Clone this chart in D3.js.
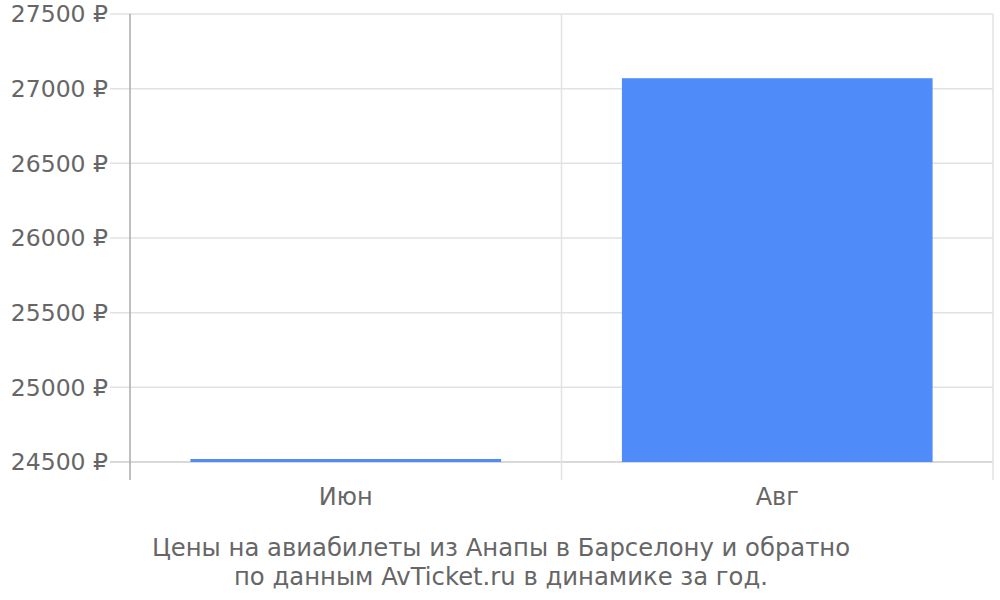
<!DOCTYPE html>
<html>
<head>
<meta charset="utf-8">
<script src="https://cdn.jsdelivr.net/npm/d3@7"></script>
<style>
  body { margin: 0; background: #fff; }
  text { font-family: "DejaVu Sans", sans-serif; fill: #666; }
</style>
</head>
<body>
<div class="chart"></div>
<script>
// Data
var months = ["Июн", "Авг"];
var prices = [24520, 27070];
var yTicks = [24500, 25000, 25500, 26000, 26500, 27000, 27500];
var captionLines = [
    "Цены на авиабилеты из Анапы в Барселону и обратно",
    "по данным AvTicket.ru в динамике за год."
];

var svgWidth = 1000;
var svgHeight = 600;

var margin = { top: 14, right: 7, bottom: 138, left: 130 };
var width = svgWidth - margin.left - margin.right;
var height = svgHeight - margin.top - margin.bottom;

var svg = d3.select(".chart")
    .append("svg")
    .attr("width", svgWidth)
    .attr("height", svgHeight);

var chartGroup = svg.append("g")
    .attr("transform", `translate(${margin.left}, ${margin.top})`);

// Scales
var xBand = d3.scaleBand()
    .domain(months)
    .range([0, width])
    .paddingInner(0.28)
    .paddingOuter(0.14);

var xCell = d3.scaleBand()
    .domain(months)
    .range([0, width]);

var yScale = d3.scaleLinear()
    .domain([24500, 27500])
    .range([height, 0]);

// Horizontal gridlines (extend a bit left of the axis as ticks)
chartGroup.selectAll(".hgrid")
    .data(yTicks)
    .enter()
    .append("line")
    .attr("class", "hgrid")
    .attr("x1", -20)
    .attr("x2", width)
    .attr("y1", d => yScale(d))
    .attr("y2", d => yScale(d))
    .attr("stroke", d => d === 24500 ? "#ccc" : "#e2e2e2")
    .attr("stroke-width", 1.5);

// Vertical gridlines at band edges
var edges = months.map(m => xCell(m)).concat([width]);
chartGroup.selectAll(".vgrid")
    .data(edges)
    .enter()
    .append("line")
    .attr("class", "vgrid")
    .attr("x1", d => d)
    .attr("x2", d => d)
    .attr("y1", 0)
    .attr("y2", height + 18)
    .attr("stroke", (d, i) => i === 0 ? "#aaa" : "#e2e2e2")
    .attr("stroke-width", 1.5);

// Bars
chartGroup.selectAll(".bar")
    .data(prices)
    .enter()
    .append("rect")
    .attr("class", "bar")
    .attr("x", (d, i) => xBand(months[i]))
    .attr("width", xBand.bandwidth())
    .attr("y", d => yScale(d))
    .attr("height", d => height - yScale(d))
    .attr("fill", "#4f8bf9");

// Y tick labels
chartGroup.selectAll(".ylabel")
    .data(yTicks)
    .enter()
    .append("text")
    .attr("class", "ylabel")
    .attr("x", -22)
    .attr("y", d => yScale(d))
    .attr("dy", "0.35em")
    .attr("text-anchor", "end")
    .style("font-size", "23.5px")
    .text(d => d + " ₽");

// X labels
chartGroup.selectAll(".xlabel")
    .data(months)
    .enter()
    .append("text")
    .attr("class", "xlabel")
    .attr("x", d => xCell(d) + xCell.bandwidth() / 2)
    .attr("y", height + 43)
    .attr("text-anchor", "middle")
    .style("font-size", "24px")
    .text(d => d);

// Caption under the chart
svg.selectAll(".caption")
    .data(captionLines)
    .enter()
    .append("text")
    .attr("class", "caption")
    .attr("x", 501)
    .attr("y", (d, i) => 556 + i * 29)
    .attr("text-anchor", "middle")
    .style("font-size", "24.3px")
    .text(d => d);
</script>
</body>
</html>
